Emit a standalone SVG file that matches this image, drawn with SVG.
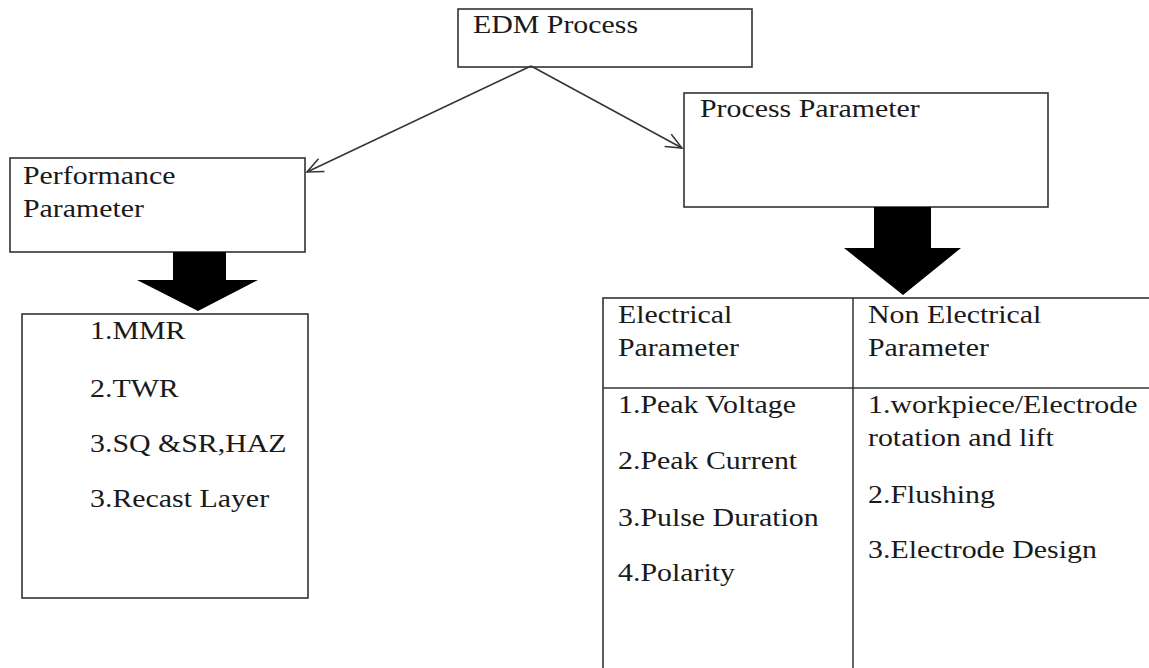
<svg xmlns="http://www.w3.org/2000/svg" width="1149" height="668" viewBox="0 0 1149 668">
<style>
.box{fill:#fff;stroke:#333;stroke-width:1.6}
.t{font-family:"Liberation Serif","Times New Roman",serif;font-size:25px;fill:#1a1a1a}
.ln{stroke:#333;stroke-width:1.5;fill:none}
.big{fill:#000}
</style>
<defs>
<marker id="open" viewBox="0 0 20 20" refX="18" refY="10" markerWidth="20" markerHeight="20" markerUnits="userSpaceOnUse" orient="auto">
<path d="M2,3 L18,10 L2,17" fill="none" stroke="#333" stroke-width="1.5"/>
</marker>
</defs>
<rect width="1149" height="668" fill="#fff"/>
<g id="edm">
<rect class="box" x="458" y="9" width="294" height="58"/>
<text class="t" transform="translate(473 33) scale(1.195 1)">EDM Process</text>
</g>
<g id="process">
<rect class="box" x="684" y="93" width="364" height="114"/>
<text class="t" transform="translate(700 117) scale(1.195 1)">Process Parameter</text>
</g>
<g id="performance">
<rect class="box" x="10" y="158" width="295" height="94"/>
<text class="t" transform="translate(23 184) scale(1.195 1)">Performance</text>
<text class="t" transform="translate(23 217) scale(1.195 1)">Parameter</text>
</g>
<g id="performance-list">
<rect class="box" x="22" y="314" width="286" height="284"/>
<text class="t" transform="translate(90 339) scale(1.195 1)">1.MMR</text>
<text class="t" transform="translate(90 397) scale(1.195 1)">2.TWR</text>
<text class="t" transform="translate(90 452) scale(1.195 1)">3.SQ &amp;SR,HAZ</text>
<text class="t" transform="translate(90 507) scale(1.195 1)">3.Recast Layer</text>
</g>
<g id="process-table">
<rect class="box" x="603" y="298" width="620" height="420"/>
<line class="ln" x1="603" y1="388" x2="1149" y2="388"/>
<line class="ln" x1="853" y1="298" x2="853" y2="668"/>
<text class="t" transform="translate(618 323) scale(1.195 1)">Electrical</text>
<text class="t" transform="translate(618 356) scale(1.195 1)">Parameter</text>
<text class="t" transform="translate(868 323) scale(1.195 1)">Non Electrical</text>
<text class="t" transform="translate(868 356) scale(1.195 1)">Parameter</text>
<text class="t" transform="translate(618 413) scale(1.195 1)">1.Peak Voltage</text>
<text class="t" transform="translate(618 469) scale(1.195 1)">2.Peak Current</text>
<text class="t" transform="translate(618 526) scale(1.195 1)">3.Pulse Duration</text>
<text class="t" transform="translate(618 581) scale(1.195 1)">4.Polarity</text>
<text class="t" transform="translate(868 413) scale(1.195 1)">1.workpiece/Electrode</text>
<text class="t" transform="translate(868 446) scale(1.195 1)">rotation and lift</text>
<text class="t" transform="translate(868 503) scale(1.195 1)">2.Flushing</text>
<text class="t" transform="translate(868 558) scale(1.195 1)">3.Electrode Design</text>
</g>
<g id="connectors">
<line class="ln" x1="531" y1="66" x2="307" y2="172" marker-end="url(#open)"/>
<line class="ln" x1="531" y1="66" x2="682" y2="148" marker-end="url(#open)"/>
<polygon class="big" points="173,252 226,252 226,280 258,280 198,311 137,280 173,280"/>
<polygon class="big" points="874,207 931,207 931,248 961,248 903,295 844,248 874,248"/>
</g>
</svg>
